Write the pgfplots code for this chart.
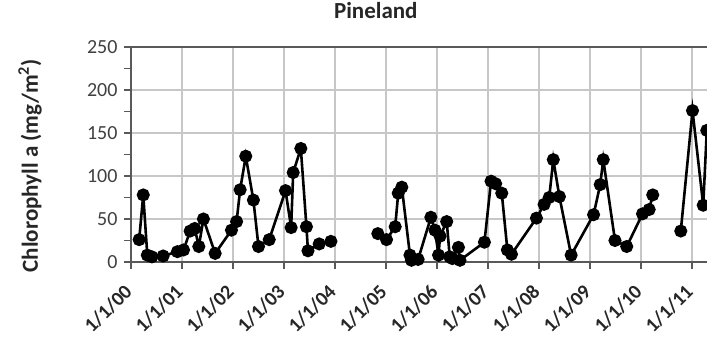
\documentclass[border=0pt]{standalone}
\usepackage{fontspec}
\setmainfont{Carlito}
\usepackage{pgfplots}
\pgfplotsset{compat=1.18}
\begin{document}
\begin{tikzpicture}
\begin{axis}[
  name=ax,
  scale only axis,
  width=576pt, height=215pt,
  xmin=2000, xmax=2011.294,
  ymin=0, ymax=250,
  axis x line*=bottom, axis y line*=left,
  axis line style={draw=black!65, line width=1.6pt},
  xtick={2000,2001,2002,2003,2004,2005,2006,2007,2008,2009,2010,2011},
  xticklabels={1/1/00,1/1/01,1/1/02,1/1/03,1/1/04,1/1/05,1/1/06,1/1/07,1/1/08,1/1/09,1/1/10,1/1/11},
  ytick={0,50,100,150,200,250},
  minor y tick num=1,
  tick align=outside,
  major tick length=7pt, minor tick length=7pt,
  every tick/.style={draw=black!65, line width=1.3pt},
  minor tick style={draw=black!65, line width=1.3pt},
  xmajorgrids, ymajorgrids,
  major grid style={draw=black!22, line width=1.6pt},
  /pgf/number format/assume math mode=true,
  ticklabel style={font=\fontsize{20}{24}\selectfont, text=black!75},
  xticklabel style={font=\fontsize{20}{24}\selectfont\bfseries, text=black!85, rotate=45, anchor=east},
  xticklabel shift=17pt,
  yticklabel style={xshift=-3pt},
  title={\bfseries Pineland},
  title style={font=\fontsize{23}{27}\selectfont, at={(rel axis cs:0.425,1)}, anchor=base, yshift=22pt, text=black!85},
  ylabel={\bfseries Chlorophyll a (mg/m\textsuperscript{2})},
  ylabel style={font=\fontsize{23}{27}\selectfont, at={(rel axis cs:-0.1753,0.447)}, anchor=center, rotate=0, text=black!85},
  unbounded coords=jump,
]
\addplot[black, line width=2.6pt, mark=*, mark size=5.2pt, mark options={fill=black}] table {
x y
2000.16 26
2000.24 78
2000.32 8
2000.41 6
2000.63 7
2000.91 12
2001.03 14
2001.16 36
2001.25 39
2001.33 18
2001.42 50
2001.65 10
2001.97 37
2002.07 47
2002.14 84
2002.25 123
2002.40 72
2002.50 18
2002.71 26
2003.03 83
2003.14 40
2003.18 104
2003.33 132
2003.44 41
2003.47 13
2003.69 21
2003.92 24
2004.4 nan
2004.84 33
2005.01 26
2005.18 41
2005.24 80
2005.31 87
2005.47 8
2005.50 2
2005.63 3
2005.88 52
2005.96 37
2006.03 8
2006.06 30
2006.19 47
2006.25 6
2006.30 4
2006.42 17
2006.45 2
2006.93 23
2007.06 94
2007.15 91
2007.27 80
2007.38 14
2007.46 9
2007.95 51
2008.10 67
2008.20 75
2008.28 119
2008.40 76
2008.63 8
2009.07 55
2009.20 90
2009.26 119
2009.49 25
2009.72 18
2010.03 56
2010.16 61
2010.23 78
2010.5 nan
2010.78 36
2011.01 176
2011.22 66
2011.29 153
};
\draw[black!65, line width=1.6pt] (rel axis cs:0,1) -- (rel axis cs:1,1);
\end{axis}
\pgfresetboundingbox
\path ([shift={(-131pt,-79pt)}]ax.south west) rectangle ([shift={(0pt,47pt)}]ax.north east);
\end{tikzpicture}
\end{document}
